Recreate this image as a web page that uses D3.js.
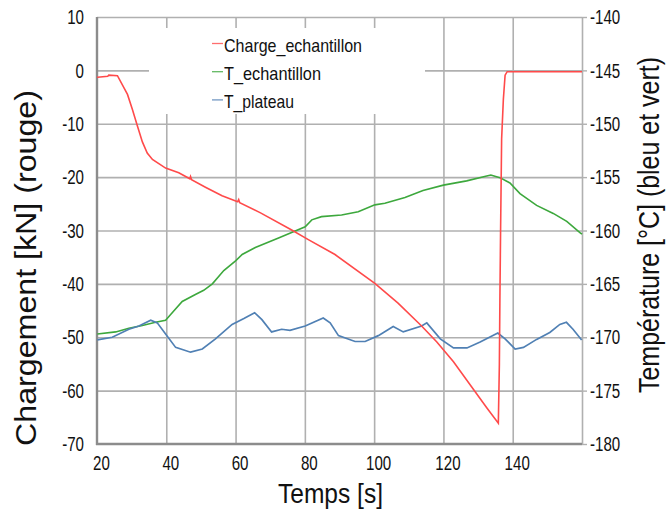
<!DOCTYPE html>
<html>
<head>
<meta charset="utf-8">
<script src="https://cdn.jsdelivr.net/npm/d3@7"></script>
<style>
  html, body { margin: 0; padding: 0; background: #fff; }
  svg { display: block; }
  text { font-family: "Liberation Sans", Arial, sans-serif; fill: #111; }
</style>
</head>
<body>
<svg id="chart" width="668" height="513"></svg>
<script>
// ---------- data ----------
const xTicks = [20, 40, 60, 80, 100, 120, 140];
const yLeftTicks = [10, 0, -10, -20, -30, -40, -50, -60, -70];
const yRightTicks = [-140, -145, -150, -155, -160, -165, -170, -175, -180];
const seriesNames = ["Charge_echantillon", "T_echantillon", "T_plateau"];

const chargeTime = [20, 20.2, 23.1, 23.4, 25.9, 28.8, 30.2, 31.6, 33.1, 34.5, 36.0, 39.8, 43.6, 46.8, 47.0, 47.3,
  51.3, 56.1, 60.6, 60.9, 61.2, 67.2, 76.2, 81.0, 88.7, 100.2, 106.9, 113.7, 118.1, 122.9, 127.7, 132.5, 135.85,
  136.15, 136.3, 136.5, 136.8, 137.3, 137.8, 138.4, 160];
const chargeVal = [-1.3, -1.3, -1.1, -0.9, -1.0, -4.5, -7.3, -10.3, -13.4, -15.5, -16.7, -18.3, -19.2, -20.3, -19.9, -20.5,
  -21.9, -23.5, -24.6, -24.2, -24.8, -26.7, -29.9, -31.7, -34.5, -39.9, -43.6, -47.9, -50.9, -54.6, -58.9, -63.2, -66.1,
  -55, -43, -30, -12.8, -5.4, -0.9, -0.25, -0.25];

const tEchTime = [20.1, 25.4, 29.2, 33.1, 36.9, 39.8, 41.2, 44.6, 48.4, 50.8, 53.3, 56.6, 60.0, 61.9, 65.7, 72.4,
  80.1, 82.0, 84.8, 90.6, 95.4, 100.2, 103.1, 108.9, 114.1, 120.0, 126.7, 132.5, 133.7, 136.3, 139.2, 142.1,
  146.9, 151.7, 155.6, 159.4, 160];
const tEchVal = [-169.7, -169.5, -169.15, -168.9, -168.6, -168.4, -167.9, -166.65, -166.0, -165.6, -165.0, -163.75,
  -162.85, -162.25, -161.6, -160.7, -159.65, -159.0, -158.7, -158.55, -158.25, -157.6, -157.45, -156.9, -156.25,
  -155.75, -155.35, -154.9, -154.8, -155.05, -155.55, -156.55, -157.65, -158.4, -159.15, -160.2, -160.35];

const tPlaTime = [20.1, 24.4, 29.2, 32.1, 35.5, 37.4, 39.8, 42.7, 47.0, 50.4, 54.2, 59.0, 62.4, 65.5, 67.6, 70.4,
  73.3, 75.7, 80.1, 85.3, 87.3, 89.7, 94.5, 97.4, 101.2, 105.5, 108.4, 113.7, 115.2, 119.1, 122.9, 126.8, 130.6,
  135.7, 137.8, 140.7, 143.1, 146.9, 150.7, 153.6, 155.5, 157.4, 159.9];
const tPlaVal = [-170.25, -170.0, -169.25, -168.95, -168.4, -168.65, -169.7, -170.95, -171.4, -171.1, -170.15, -168.8,
  -168.25, -167.7, -168.35, -169.5, -169.25, -169.35, -168.95, -168.2, -168.65, -169.85, -170.4, -170.4, -169.85,
  -169.0, -169.5, -168.95, -168.65, -170.15, -171.0, -171.0, -170.45, -169.6, -170.15, -171.1, -170.95, -170.2,
  -169.55, -168.8, -168.6, -169.25, -170.25];

// ---------- layout ----------
const L = 97, R = 582, T = 17, B = 444;
const colors = { red: "#ff4a4a", green: "#3da83d", blue: "#5080b4" };
const gridColor = "#b0b0b0";
const axisColor = "#8c8c8c";
const SX = 0.72; // horizontal squeeze to mimic the narrow face of the original

const svg = d3.select("#chart");
svg.append("rect").attr("width", 668).attr("height", 513).attr("fill", "#fff");

const x = d3.scaleLinear().domain([20, 160]).range([L, R]);
const yL = d3.scaleLinear().domain([-70, 10]).range([B, T]);
const yR = d3.scaleLinear().domain([-180, -140]).range([B, T]);

// gridlines
const gx = svg.append("g").attr("transform", `translate(0,${B})`)
  .call(d3.axisBottom(x).tickValues([40, 60, 80, 100, 120, 140, 160]).tickSize(-(B - T)).tickFormat(""));
const gy = svg.append("g").attr("transform", `translate(${L},0)`)
  .call(d3.axisLeft(yL).tickValues([10, 0, -10, -20, -30, -40, -50, -60]).tickSize(-(R - L)).tickFormat(""));
[gx, gy].forEach(g => {
  g.select(".domain").remove();
  g.selectAll("line").attr("stroke", gridColor).attr("stroke-width", 1.6);
});

// right small outward ticks
const rt = svg.append("g").attr("transform", `translate(${R},0)`)
  .call(d3.axisRight(yR).tickValues(yRightTicks).tickSize(5).tickFormat(""));
rt.select(".domain").remove();
rt.selectAll("line").attr("stroke", gridColor).attr("stroke-width", 1.4);

// main axis lines (left and bottom)
svg.append("line").attr("x1", L).attr("x2", L).attr("y1", T).attr("y2", B + 1)
  .attr("stroke", axisColor).attr("stroke-width", 2.4);
svg.append("line").attr("x1", L - 1).attr("x2", R).attr("y1", B).attr("y2", B)
  .attr("stroke", axisColor).attr("stroke-width", 2.4);

// tick labels
const fmt = d => String(d);
const ax = svg.append("g").attr("transform", `translate(0,${B})`)
  .call(d3.axisBottom(x).tickValues(xTicks).tickSize(0).tickPadding(11).tickFormat(fmt));
const axL = svg.append("g").attr("transform", `translate(${L},0)`)
  .call(d3.axisLeft(yL).tickValues(yLeftTicks).tickSize(0).tickPadding(13).tickFormat(fmt));
const axR = svg.append("g").attr("transform", `translate(${R},0)`)
  .call(d3.axisRight(yR).tickValues(yRightTicks).tickSize(0).tickPadding(8).tickFormat(fmt));
[ax, axL, axR].forEach(g => {
  g.select(".domain").remove();
  g.selectAll("text").attr("font-size", 21)
    .attr("font-family", '"Liberation Sans", Arial, sans-serif')
    .attr("fill", "#111")
    .each(function () {
      const t = d3.select(this);
      const xv = +t.attr("x") || 0;
      t.attr("x", xv / SX).attr("transform", `scale(${SX},1)`);
    });
});
ax.selectAll("text").attr("dx", 4 / SX);

// lines
const lineL = d3.line().x(d => x(d[0])).y(d => yL(d[1]));
const lineR = d3.line().x(d => x(d[0])).y(d => yR(d[1]));
const plot = svg.append("g");
plot.append("path").datum(d3.zip(tEchTime, tEchVal)).attr("d", lineR)
  .attr("fill", "none").attr("stroke", colors.green).attr("stroke-width", 1.6);
plot.append("path").datum(d3.zip(tPlaTime, tPlaVal)).attr("d", lineR)
  .attr("fill", "none").attr("stroke", colors.blue).attr("stroke-width", 1.7);
plot.append("path").datum(d3.zip(chargeTime, chargeVal)).attr("d", lineL)
  .attr("fill", "none").attr("stroke", colors.red).attr("stroke-width", 1.6);

// legend
const leg = svg.append("g");
leg.append("rect").attr("x", 149).attr("y", 28).attr("width", 276).attr("height", 86).attr("fill", "#fff");
const legLens = [138, 97, 70];
const legCols = [colors.red, colors.green, colors.blue];
seriesNames.forEach((name, i) => {
  const by = 52 + i * 28.2;
  leg.append("line").attr("x1", 212).attr("x2", 223).attr("y1", by - 8.5).attr("y2", by - 8.5)
    .attr("stroke", legCols[i]).attr("stroke-width", 1.3).attr("opacity", 0.8);
  leg.append("text").attr("x", 224).attr("y", by).attr("font-size", 18.5)
    .attr("font-family", '"Open Sans", "Noto Sans", sans-serif')
    .attr("textLength", legLens[i]).attr("lengthAdjust", "spacingAndGlyphs")
    .attr("fill", "#222").text(name);
});

// axis titles
svg.append("text").attr("x", 330.5).attr("y", 503).attr("text-anchor", "middle")
  .attr("font-size", 28).attr("textLength", 105).attr("lengthAdjust", "spacingAndGlyphs")
  .attr("font-family", '"Open Sans", "Noto Sans", sans-serif')
  .text("Temps [s]");
svg.append("text").attr("transform", "translate(36,268) rotate(-90)").attr("text-anchor", "middle")
  .attr("font-size", 29).attr("textLength", 356).attr("lengthAdjust", "spacingAndGlyphs")
  .text("Chargement [kN] (rouge)");
svg.append("text").attr("transform", "translate(659,225) rotate(-90)").attr("text-anchor", "middle")
  .attr("font-size", 29).attr("textLength", 336).attr("lengthAdjust", "spacingAndGlyphs")
  .text("Température [°C] (bleu et vert)");
</script>
</body>
</html>
